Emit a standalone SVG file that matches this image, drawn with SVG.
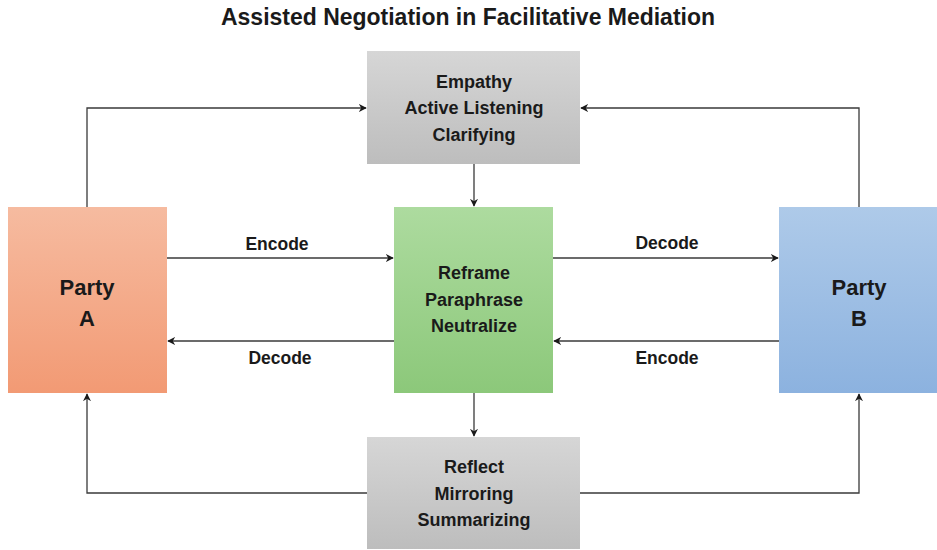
<svg xmlns="http://www.w3.org/2000/svg" width="937" height="550" viewBox="0 0 937 550">
<style>
text{font-family:"Liberation Sans",Arial,sans-serif;font-weight:bold;fill:#1a1a1a;text-anchor:middle;dominant-baseline:central}
.t{font-size:23px}
.n{font-size:18px}
.p{font-size:22px}
.l{font-size:17.5px}
.c{fill:none;stroke:#3a3a3a;stroke-width:1.3;marker-end:url(#ah)}
</style>
<defs>
<marker id="ah" viewBox="0 0 10 10" refX="9" refY="5" markerWidth="8" markerHeight="8" markerUnits="userSpaceOnUse" orient="auto">
<path d="M0,0 L10,5 L0,10 L3,5 z" fill="#1a1a1a"/>
</marker>
<linearGradient id="gA" x1="0" y1="0" x2="0" y2="1"><stop offset="0" stop-color="#f6bba0"/><stop offset="1" stop-color="#f29a74"/></linearGradient>
<linearGradient id="gB" x1="0" y1="0" x2="0" y2="1"><stop offset="0" stop-color="#aecae9"/><stop offset="1" stop-color="#8cb2df"/></linearGradient>
<linearGradient id="gG" x1="0" y1="0" x2="0" y2="1"><stop offset="0" stop-color="#addb9f"/><stop offset="1" stop-color="#8cc87a"/></linearGradient>
<linearGradient id="gS" x1="0" y1="0" x2="0" y2="1"><stop offset="0" stop-color="#d6d6d6"/><stop offset="1" stop-color="#bdbdbd"/></linearGradient>
</defs>
<rect width="937" height="550" fill="#fff"/>
<text class="t" x="468" y="17" textLength="494" lengthAdjust="spacingAndGlyphs">Assisted Negotiation in Facilitative Mediation</text>
<g id="connectors">
<path class="c" d="M167,258 H393"/>
<path class="c" d="M394,341 H168"/>
<path class="c" d="M553,258 H778"/>
<path class="c" d="M779,341 H554"/>
<path class="c" d="M87,207 V108 H366"/>
<path class="c" d="M859,207 V108 H581"/>
<path class="c" d="M474,164 V206"/>
<path class="c" d="M474,393 V436"/>
<path class="c" d="M367,493 H87 V394"/>
<path class="c" d="M580,493 H859 V394"/>
</g>
<g id="labels">
<text class="l" x="277" y="244">Encode</text>
<text class="l" x="280" y="358">Decode</text>
<text class="l" x="667" y="243">Decode</text>
<text class="l" x="667" y="358">Encode</text>
</g>
<g id="partyA">
<rect x="8" y="207" width="159" height="186" fill="url(#gA)"/>
<text class="p" x="87" y="287">Party</text>
<text class="p" x="87" y="318">A</text>
</g>
<g id="partyB">
<rect x="779" y="207" width="158" height="186" fill="url(#gB)"/>
<text class="p" x="859" y="287">Party</text>
<text class="p" x="859" y="318">B</text>
</g>
<g id="empathy">
<rect x="367" y="51" width="213" height="113" fill="url(#gS)"/>
<text class="n" x="474" y="82">Empathy</text>
<text class="n" x="474" y="108">Active Listening</text>
<text class="n" x="474" y="135">Clarifying</text>
</g>
<g id="reframe">
<rect x="394" y="207" width="159" height="186" fill="url(#gG)"/>
<text class="n" x="474" y="273">Reframe</text>
<text class="n" x="474" y="300">Paraphrase</text>
<text class="n" x="474" y="326">Neutralize</text>
</g>
<g id="reflect">
<rect x="367" y="437" width="213" height="112" fill="url(#gS)"/>
<text class="n" x="474" y="467">Reflect</text>
<text class="n" x="474" y="494">Mirroring</text>
<text class="n" x="474" y="520">Summarizing</text>
</g>
</svg>
